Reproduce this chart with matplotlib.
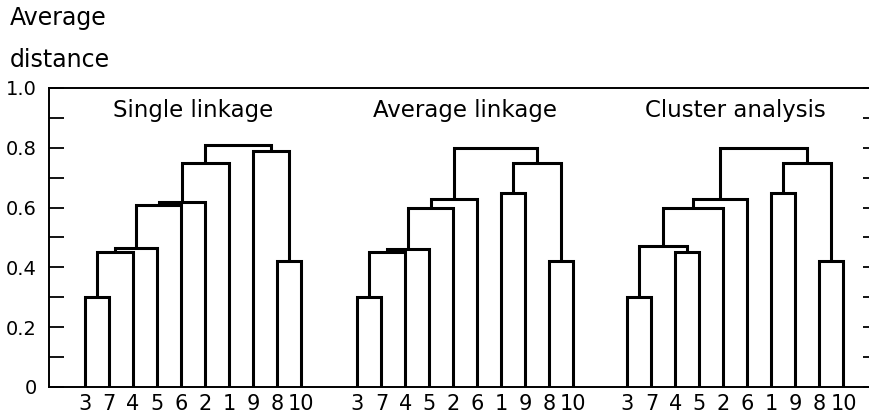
import matplotlib
matplotlib.use('Agg')
import matplotlib.pyplot as plt
from matplotlib.ticker import MultipleLocator

# leaf order and merges (left, right, height) for each dendrogram
titles = ['Single linkage', 'Average linkage', 'Cluster analysis']

single_order = [3, 7, 4, 5, 6, 2, 1, 9, 8, 10]
single_merges = [(3, 7, 0.30), ('m0', 4, 0.45), ('m1', 5, 0.465),
                 ('m2', 6, 0.61), ('m3', 2, 0.62), ('m4', 1, 0.75),
                 (8, 10, 0.42), (9, 'm6', 0.79), ('m5', 'm7', 0.81)]

average_order = [3, 7, 4, 5, 2, 6, 1, 9, 8, 10]
average_merges = [(3, 7, 0.30), ('m0', 4, 0.45), ('m1', 5, 0.46),
                  ('m2', 2, 0.60), ('m3', 6, 0.63), (1, 9, 0.65),
                  (8, 10, 0.42), ('m5', 'm6', 0.75), ('m4', 'm7', 0.80)]

cluster_order = [3, 7, 4, 5, 2, 6, 1, 9, 8, 10]
cluster_merges = [(3, 7, 0.30), (4, 5, 0.45), ('m0', 'm1', 0.47),
                  ('m2', 2, 0.60), ('m3', 6, 0.63), (1, 9, 0.65),
                  (8, 10, 0.42), ('m5', 'm6', 0.75), ('m4', 'm7', 0.80)]

y_ticks = [0, 0.2, 0.4, 0.6, 0.8, 1.0]
y_labels = ['0', '0.2', '0.4', '0.6', '0.8', '1.0']

trees = [(single_order, single_merges),
         (average_order, average_merges),
         (cluster_order, cluster_merges)]
offsets = [0, 11.35, 22.6]


def draw_tree(ax, order, merges, offset):
    pos = {leaf: offset + i for i, leaf in enumerate(order)}
    hgt = {leaf: 0.0 for leaf in order}
    for k, (a, b, h) in enumerate(merges):
        xa, xb = pos[a], pos[b]
        ax.plot([xa, xa, xb, xb], [hgt[a], h, h, hgt[b]], color='black',
                lw=2.2, solid_joinstyle='miter', solid_capstyle='butt')
        pos[f'm{k}'] = (xa + xb) / 2
        hgt[f'm{k}'] = h
    return [pos[leaf] for leaf in order]


def main():
    plt.rcParams['font.family'] = 'DejaVu Sans'
    fig = plt.figure(figsize=(8.69, 4.2), dpi=100)
    ax = fig.add_axes([49 / 869, 1 - 387 / 420, (878 - 49) / 869, (387 - 88) / 420])

    ticks, labels = [], []
    for (order, merges), off, title in zip(trees, offsets, titles):
        xs = draw_tree(ax, order, merges, off)
        ticks += xs
        labels += [str(v) for v in order]
        ax.text(off + 4.5, 0.925, title, ha='center', va='center', fontsize=16.5)

    ax.set_xlim(-1.5, 33.04)
    ax.set_ylim(0, 1.0)
    ax.set_xticks(ticks)
    ax.set_xticklabels(labels)
    ax.tick_params(axis='x', length=0, pad=5, labelsize=15)

    ax.set_yticks(y_ticks)
    ax.set_yticklabels(y_labels)
    ax.yaxis.set_minor_locator(MultipleLocator(0.1))
    ax.tick_params(axis='y', which='both', direction='in', length=11, width=1.3,
                   left=True, right=True, pad=9, labelsize=14)

    for s in ax.spines.values():
        s.set_linewidth(1.4)

    fig.text(10 / 869, 1 - 18 / 420, 'Average', ha='left', va='center', fontsize=17)
    fig.text(10 / 869, 1 - 60 / 420, 'distance', ha='left', va='center', fontsize=17)

    fig.savefig('out.png', dpi=100)


if __name__ == "__main__":
    main()
